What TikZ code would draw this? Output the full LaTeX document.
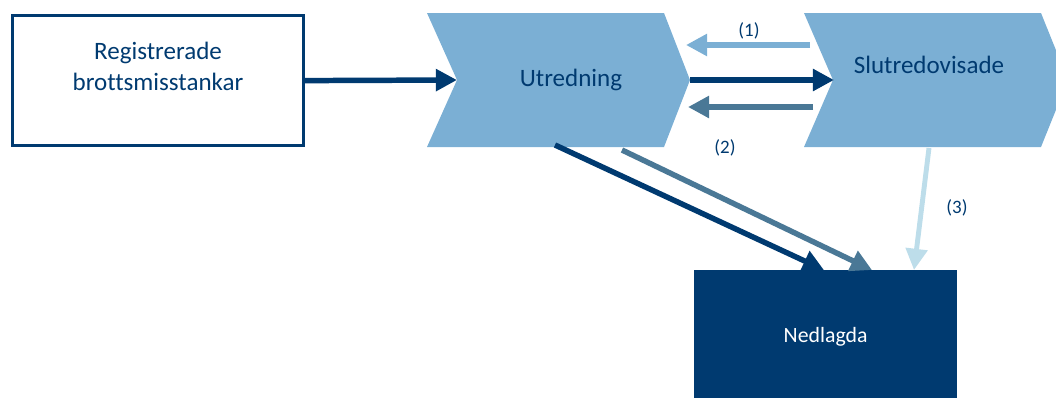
\documentclass[tikz,border=0pt]{standalone}
\usepackage{fontspec}
\setmainfont{Carlito}[Ligatures=NoCommon]
\usetikzlibrary{arrows.meta}
\definecolor{darkblue}{HTML}{003A70}
\definecolor{chevblue}{HTML}{7BAFD4}
\definecolor{midblue}{HTML}{4A7896}
\definecolor{paleblue}{HTML}{BDDDEA}

\begin{document}
\begin{tikzpicture}[
every node/.style={
    inner sep=0pt,
    text=darkblue
},
flow/.style={
    line width=3.9pt,
    -{Triangle[length=0.53cm,width=0.53cm]}
},
bigtext/.style={font=\fontsize{17.8}{22}\selectfont, align=center},
numtext/.style={font=\fontsize{13.5}{16}\selectfont}
]
\useasboundingbox (0,0) rectangle (26.4,-9.925);

%---------------- Boxes ----------------
\node[draw=darkblue, line width=2.2pt, minimum width=7.28cm, minimum height=3.25cm] (reg) at (3.95,-2.015) {};
\node[bigtext] (regtxt) at (3.95,-1.65) {Registrerade\\brottsmisstankar};

\fill[chevblue] (10.675,-0.325) -- (16.6,-0.325) -- (17.25,-2.0) -- (16.6,-3.675)
    -- (10.675,-3.675) -- (11.425,-2.0) -- cycle;
\node[bigtext] (utr) at (14.275,-2.0) {Utredning};

\fill[chevblue] (20.1,-0.325) -- (26.025,-0.325) -- (26.7,-2.0) -- (26.025,-3.675)
    -- (20.1,-3.675) -- (20.825,-2.0) -- cycle;
\node[bigtext] (slut) at (23.225,-1.625) {Slutredovisade};

\node[fill=darkblue, minimum width=6.575cm, minimum height=3.35cm, text=white,
    font=\fontsize{15.5}{18}\selectfont] (ned) at (20.64,-8.425) {Nedlagda};

%---------------- Ends ----------------
\coordinate (utrnotch) at (11.425,-2.0);
\coordinate (utrtip) at (17.25,-2.0);
\coordinate (slutnotch) at (20.85,-2.0);
\coordinate (back1s) at (20.25,-1.125);
\coordinate (back1e) at (17.15,-1.125);
\coordinate (back2s) at (20.325,-2.675);
\coordinate (back2e) at (17.2,-2.675);
\coordinate (utrdark) at (13.875,-3.625);
\coordinate (utrmid) at (15.55,-3.75);
\coordinate (slutdown) at (23.225,-3.7);
\coordinate (neddark) at (20.6,-6.75);
\coordinate (nedmid) at (21.8,-6.75);
\coordinate (nedpale) at (22.85,-6.75);

%---------------- Arrows ----------------
\draw[flow, darkblue] (reg.east) -- (utrnotch);
\draw[flow, chevblue] (back1s) -- (back1e);
\draw[flow, darkblue] (utrtip) -- (slutnotch);
\draw[flow, midblue] (back2s) -- (back2e);
\draw[flow, darkblue] (utrdark) -- (neddark);
\draw[flow, midblue] (utrmid) -- (nedmid);
\draw[flow, paleblue, line width=3.5pt] (slutdown) -- (nedpale);

\node[numtext] (lab1) at (18.725,-0.775) {(1)};
\node[numtext] (lab2) at (18.125,-3.7) {(2)};
\node[numtext] (lab3) at (23.925,-5.2) {(3)};

\end{tikzpicture}
\end{document}
